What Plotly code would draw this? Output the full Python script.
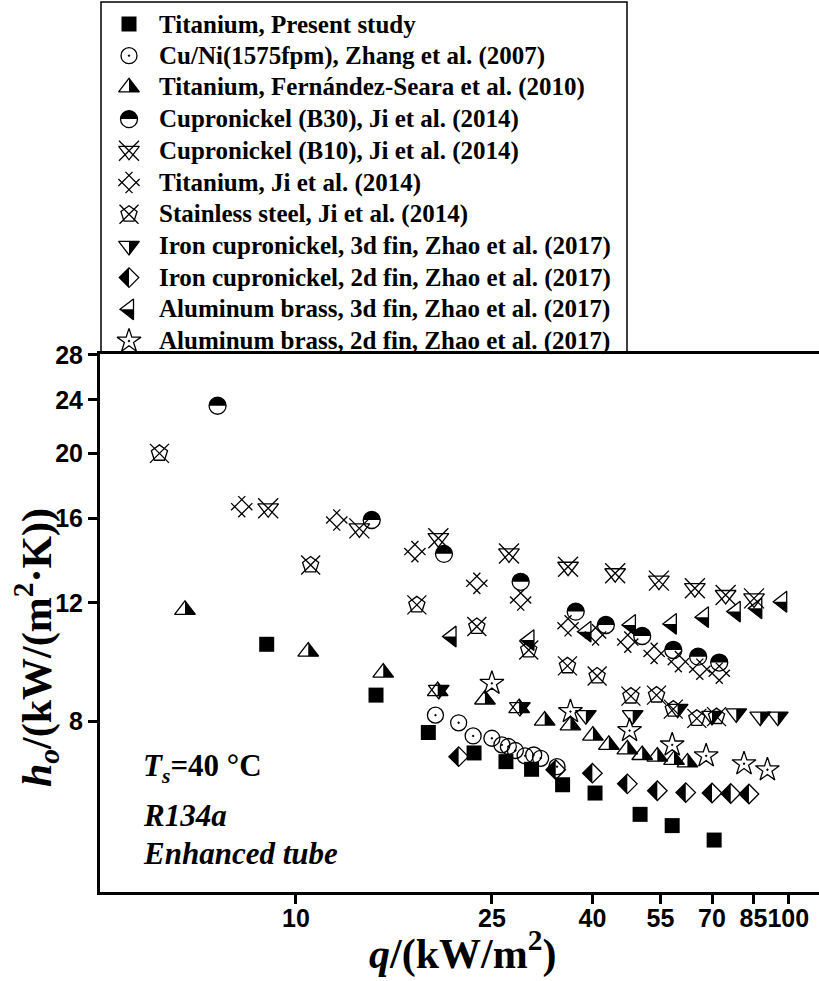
import numpy as np
import plotly.graph_objects as go

# ---------------------------------------------------------------
# Data: heat flux q (kW/m2) and outside HTC h_o (kW/(m2 K))
# ---------------------------------------------------------------
ti_present_q = [8.72, 14.54, 18.57, 23.0, 26.7, 30.1, 34.8, 40.5, 50.0, 58.1, 70.7]
ti_present_h = [10.42, 8.76, 7.71, 7.19, 6.98, 6.80, 6.45, 6.27, 5.83, 5.61, 5.34]

cuni_zhang_q = [19.2, 21.4, 22.9, 25.0, 26.2, 27.0, 27.9, 29.2, 30.4, 31.4, 33.9]
cuni_zhang_h = [8.18, 7.97, 7.62, 7.56, 7.39, 7.35, 7.25, 7.12, 7.14, 7.06, 6.86]

ti_fs_q = [5.95, 10.59, 15.04, 19.4, 24.2, 28.4, 32.0, 36.1, 40.1, 43.2, 47.1, 50.5, 54.2, 58.6, 62.4]
ti_fs_h = [11.72, 10.16, 9.46, 8.88, 8.63, 8.38, 8.03, 7.90, 7.63, 7.39, 7.28, 7.14, 7.10, 7.02, 6.96]

b30_ji_q = [6.93, 14.25, 19.98, 28.6, 37.0, 42.6, 50.5, 58.4, 65.6, 72.4]
b30_ji_h = [23.53, 15.93, 14.19, 12.90, 11.65, 11.13, 10.72, 10.22, 9.99, 9.79]

b10_ji_q = [8.78, 13.45, 19.46, 27.08, 35.7, 44.5, 54.6, 64.6, 74.6, 85.2]
b10_ji_h = [16.58, 15.48, 14.97, 14.21, 13.58, 13.28, 12.95, 12.62, 12.33, 12.19]

ti_ji_q = [7.76, 12.1, 17.44, 23.3, 28.6, 35.7, 40.6, 47.2, 53.4, 59.8, 66.1, 72.4]
ti_ji_h = [16.67, 15.93, 14.30, 12.83, 12.12, 11.10, 10.76, 10.50, 10.10, 9.82, 9.57, 9.44]

ss_ji_q = [5.28, 10.71, 17.6, 23.3, 29.7, 35.6, 40.9, 47.9, 54.0, 58.4, 65.2, 71.5]
ss_ji_h = [20.0, 13.66, 11.92, 11.07, 10.22, 9.68, 9.35, 8.73, 8.76, 8.35, 8.09, 8.14]

icn3d_q = [19.5, 28.5, 38.8, 48.3, 59.6, 70.0, 78.4, 87.7, 95.2]
icn3d_h = [8.92, 8.41, 8.18, 8.18, 8.36, 8.16, 8.23, 8.14, 8.14]

icn2d_q = [21.4, 33.7, 40.0, 47.1, 54.2, 61.9, 70.0, 76.4, 83.2]
icn2d_h = [7.10, 6.79, 6.71, 6.47, 6.32, 6.28, 6.27, 6.26, 6.25]

alb3d_q = [20.7, 29.8, 38.9, 47.9, 58.0, 67.4, 78.2, 86.5, 97.2]
alb3d_h = [10.70, 10.57, 10.88, 11.13, 11.17, 11.43, 11.65, 11.78, 12.05]

alb2d_q = [25.0, 36.1, 47.6, 58.1, 68.1, 81.3, 90.7]
alb2d_h = [9.12, 8.28, 7.76, 7.39, 7.12, 6.93, 6.79]

series_labels = [
    "Titanium, Present study",
    "Cu/Ni(1575fpm), Zhang et al. (2007)",
    "Titanium, Fernández-Seara et al. (2010)",
    "Cupronickel (B30), Ji et al. (2014)",
    "Cupronickel (B10), Ji et al. (2014)",
    "Titanium, Ji et al. (2014)",
    "Stainless steel, Ji et al. (2014)",
    "Iron cupronickel, 3d fin, Zhao et al. (2017)",
    "Iron cupronickel, 2d fin, Zhao et al. (2017)",
    "Aluminum brass, 3d fin, Zhao et al. (2017)",
    "Aluminum brass, 2d fin, Zhao et al. (2017)",
]

x_ticks = [10, 25, 40, 55, 70, 85, 100]
y_ticks = [8, 12, 16, 20, 24, 28]

# ---------------------------------------------------------------
# Marker styles: stacked plotly symbols + optional half-filled part
# ---------------------------------------------------------------
LW = 1.3
styles = [
    dict(layers=[("square", 15, "black", 0)], half=None),
    dict(layers=[("circle-open-dot", 16, "black", LW)], half=None),
    dict(layers=[("triangle-up-open", 18, "black", LW)], half=("tri_up_right", 18)),
    dict(layers=[("circle-open", 17, "black", LW)], half=("circle_top", 17)),
    dict(layers=[("triangle-down-open", 18, "black", LW), ("x-thin-open", 20, "black", LW)], half=None),
    dict(layers=[("hash-open", 20, "black", LW, 45)], half=None),
    dict(layers=[("pentagon-open", 17, "black", LW), ("x-thin-open", 19, "black", LW)], half=None),
    dict(layers=[("triangle-down-open", 18, "black", LW)], half=("tri_down_right", 18)),
    dict(layers=[("diamond-open", 15, "black", LW)], half=("diamond_left", 15)),
    dict(layers=[("triangle-left-open", 18, "black", LW)], half=("tri_left_bottom", 18)),
    dict(layers=[("star-open-dot", 18, "black", LW)], half=None),
]

all_data = [
    (ti_present_q, ti_present_h), (cuni_zhang_q, cuni_zhang_h), (ti_fs_q, ti_fs_h),
    (b30_ji_q, b30_ji_h), (b10_ji_q, b10_ji_h), (ti_ji_q, ti_ji_h), (ss_ji_q, ss_ji_h),
    (icn3d_q, icn3d_h), (icn2d_q, icn2d_h), (alb3d_q, alb3d_h), (alb2d_q, alb2d_h),
]


def half_path(kind, size):
    """Pixel-space polygon (y up) for the black half of a symbol, using plotly's symbol geometry."""
    r = size / 2.0
    rt = r * 2 / np.sqrt(3)
    if kind == "tri_up_right":
        pts = [(0, r), (0, -r / 2), (rt, -r / 2)]
    elif kind == "tri_down_right":
        pts = [(0, r / 2), (rt, r / 2), (0, -r)]
    elif kind == "tri_left_bottom":
        pts = [(-r, 0), (r / 2, 0), (r / 2, -rt)]
    elif kind == "diamond_left":
        rd = 1.3 * r
        pts = [(0, rd), (-rd, 0), (0, -rd)]
    else:  # circle_top
        t = np.linspace(0, np.pi, 25)
        pts = list(zip(r * np.cos(t), r * np.sin(t)))
    return "M" + " L".join(f"{x:.2f},{y:.2f}" for x, y in pts) + " Z"


fig = go.Figure()
shapes = []


def add_points(xs, ys, style, xa, ya, name):
    for layer in style["layers"]:
        sym, size, col, lw = layer[:4]
        ang = layer[4] if len(layer) > 4 else 0
        fig.add_trace(go.Scatter(
            x=xs, y=ys, mode="markers", name=name, showlegend=False,
            xaxis=xa, yaxis=ya, cliponaxis=False,
            marker=dict(symbol=sym, size=size, color=col, angle=ang,
                        line=dict(color="black", width=lw)),
        ))
    if style["half"]:
        kind, size = style["half"]
        p = half_path(kind, size)
        xref = "x" if xa == "x" else "x2"
        yref = "y" if ya == "y" else "y2"
        for xv, yv in zip(xs, ys):
            shapes.append(dict(
                type="path", path=p, xref=xref, yref=yref,
                xsizemode="pixel", ysizemode="pixel", xanchor=xv, yanchor=yv,
                fillcolor="black", line=dict(width=0), layer="above",
            ))


for (q, h), st, lab in zip(all_data, styles, series_labels):
    add_points(q, h, st, "x", "y", lab)

# ---------------------------------------------------------------
# Legend panel (own subplot, pixel-like units)
# ---------------------------------------------------------------
W, H = 819, 981
ML, MB = 100, 89
plot_w = W - ML
plot_h = H - MB
top_px = 354  # top edge of the main axes
leg_w = 527
row0, row_step = 24.0, 31.7
annotations = []
for i, (st, lab) in enumerate(zip(styles, series_labels)):
    yrow = row0 + i * row_step
    add_points([29], [yrow], st, "x2", "y2", lab)
    annotations.append(dict(
        x=57, y=yrow, xref="x2", yref="y2", xanchor="left", yanchor="middle",
        text=lab, showarrow=False,
        font=dict(family="Liberation Serif", size=25, color="black", weight="bold"),
    ))
shapes.append(dict(type="rect", xref="x2", yref="y2", x0=1, x1=leg_w, y0=2, y1=top_px,
                    line=dict(color="black", width=1.5), fillcolor="rgba(0,0,0,0)", layer="below"))


def ppx(px):
    return px / plot_w


def ppy(py):
    return (plot_h - py) / plot_h


cond_font = dict(family="Liberation Serif", size=31, color="black", weight="bold")
title_font = dict(family="Liberation Serif", size=42, color="black", weight="bold")
annotations += [
    dict(x=ppx(41), y=ppy(768), xref="paper", yref="paper", xanchor="left", yanchor="middle",
         text="<i>T</i><sub><i>s</i></sub>=40 °C", showarrow=False, font=cond_font),
    dict(x=ppx(41), y=ppy(815), xref="paper", yref="paper", xanchor="left", yanchor="middle",
         text="<i>R134a</i>", showarrow=False, font=cond_font),
    dict(x=ppx(41), y=ppy(853), xref="paper", yref="paper", xanchor="left", yanchor="middle",
         text="<i>Enhanced tube</i>", showarrow=False, font=cond_font),
    # axis titles
    dict(x=ppx(462 - ML), y=ppy(951), xref="paper", yref="paper", xanchor="center", yanchor="middle",
         text="<i>q</i>/(kW/m<sup>2</sup>)", showarrow=False, font=title_font),
    dict(x=ppx(36 - ML), y=ppy(648), xref="paper", yref="paper", xanchor="center", yanchor="middle",
         textangle=-90, text="<i>h</i><sub><i>o</i></sub>/(kW/(m<sup>2</sup>·K))",
         showarrow=False, font=title_font),
]

main_top = (plot_h - top_px) / plot_h

tick_font = dict(family="Liberation Sans", size=25, color="black", weight="bold")

fig.update_layout(
    width=W, height=H,
    margin=dict(l=ML, r=0, t=0, b=MB, pad=0, autoexpand=False),
    paper_bgcolor="white", plot_bgcolor="white",
    showlegend=False,
    shapes=shapes, annotations=annotations,
    xaxis=dict(
        type="log", domain=[0, 1], range=[0.6019, 2.0624], automargin=False,
        tickvals=x_ticks, ticktext=[str(v) for v in x_ticks], tickangle=0,
        ticklabelstandoff=-7,
        showline=True, linecolor="black", linewidth=3, mirror=True,
        ticks="outside", ticklen=9, tickwidth=3, tickcolor="black",
        showgrid=False, zeroline=False, tickfont=tick_font,
    ),
    yaxis=dict(
        type="log", domain=[0, main_top], range=[0.6505, 1.4484], automargin=False,
        tickvals=y_ticks, ticktext=[str(v) for v in y_ticks],
        showline=True, linecolor="black", linewidth=3, mirror=False,
        ticks="outside", ticklen=9, tickwidth=3, tickcolor="black",
        showgrid=False, zeroline=False, tickfont=tick_font,
    ),
    xaxis2=dict(domain=[0, 1], range=[0, plot_w], visible=False, anchor="y2", fixedrange=True),
    yaxis2=dict(domain=[main_top, 1], range=[top_px, 0], visible=False, anchor="x2", fixedrange=True),
)

fig.write_html("out.html")
